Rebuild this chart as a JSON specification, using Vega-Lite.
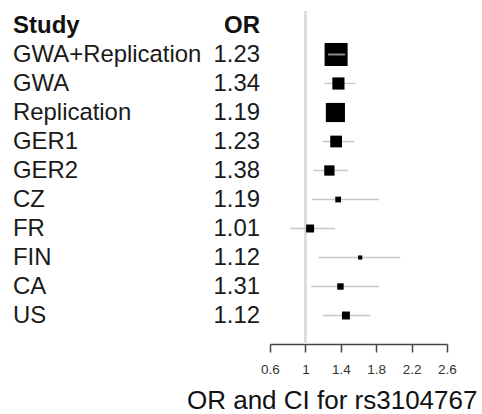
{
  "$schema": "https://vega.github.io/schema/vega-lite/v6.json",
  "padding": {"left": 13, "top": 10, "right": 0, "bottom": 0},
  "bounds": "flush",
  "spacing": 10,
  "config": {"view": {"stroke": null}, "font": "Liberation Sans"},
  "datasets": {
    "rows": [
      {"study": "Study", "orText": "OR", "header": true},
      {"study": "GWA+Replication", "orText": "1.23", "header": false, "summary": true, "est": 1.347, "lo": 1.256, "hi": 1.449, "weight": 100},
      {"study": "GWA", "orText": "1.34", "header": false, "summary": false, "est": 1.373, "lo": 1.211, "hi": 1.566, "weight": 28},
      {"study": "Replication", "orText": "1.19", "header": false, "summary": false, "est": 1.339, "lo": 1.27, "hi": 1.41, "weight": 69},
      {"study": "GER1", "orText": "1.23", "header": false, "summary": false, "est": 1.347, "lo": 1.196, "hi": 1.551, "weight": 26},
      {"study": "GER2", "orText": "1.38", "header": false, "summary": false, "est": 1.271, "lo": 1.09, "hi": 1.483, "weight": 20},
      {"study": "CZ", "orText": "1.19", "header": false, "summary": false, "est": 1.37, "lo": 1.075, "hi": 1.834, "weight": 6.2},
      {"study": "FR", "orText": "1.01", "header": false, "summary": false, "est": 1.053, "lo": 0.826, "hi": 1.336, "weight": 12},
      {"study": "FIN", "orText": "1.12", "header": false, "summary": false, "est": 1.619, "lo": 1.147, "hi": 2.071, "weight": 3.2},
      {"study": "CA", "orText": "1.31", "header": false, "summary": false, "est": 1.396, "lo": 1.064, "hi": 1.834, "weight": 7.8},
      {"study": "US", "orText": "1.12", "header": false, "summary": false, "est": 1.458, "lo": 1.196, "hi": 1.732, "weight": 12}
    ]
  },
  "hconcat": [
    {
      "width": 190,
      "height": 333,
      "data": {"name": "rows"},
      "layer": [
        {
          "transform": [{"filter": "datum.header"}],
          "mark": {"type": "text", "x": 0, "align": "left", "baseline": "middle", "fontSize": 24, "fontWeight": "bold", "color": "#111"},
          "encoding": {
            "y": {"field": "study", "type": "nominal", "axis": null, "sort": null,
              "scale": {"type": "band", "domain": ["Study", "GWA+Replication", "GWA", "Replication", "GER1", "GER2", "CZ", "FR", "FIN", "CA", "US"], "paddingInner": 0, "paddingOuter": 0.2413, "align": 0}},
            "text": {"field": "study"}
          }
        },
        {
          "transform": [{"filter": "!datum.header"}],
          "mark": {"type": "text", "x": 0, "align": "left", "baseline": "middle", "fontSize": 23.9, "color": "#1a1a1a"},
          "encoding": {
            "y": {"field": "study", "type": "nominal", "axis": null, "sort": null,
              "scale": {"type": "band", "domain": ["Study", "GWA+Replication", "GWA", "Replication", "GER1", "GER2", "CZ", "FR", "FIN", "CA", "US"], "paddingInner": 0, "paddingOuter": 0.2413, "align": 0}},
            "text": {"field": "study"}
          }
        }
      ]
    },
    {
      "width": 47,
      "height": 333,
      "data": {"name": "rows"},
      "layer": [
        {
          "transform": [{"filter": "datum.header"}],
          "mark": {"type": "text", "x": "width", "align": "right", "baseline": "middle", "fontSize": 24, "fontWeight": "bold", "color": "#111"},
          "encoding": {
            "y": {"field": "study", "type": "nominal", "axis": null, "sort": null,
              "scale": {"type": "band", "domain": ["Study", "GWA+Replication", "GWA", "Replication", "GER1", "GER2", "CZ", "FR", "FIN", "CA", "US"], "paddingInner": 0, "paddingOuter": 0.2413, "align": 0}},
            "text": {"field": "orText"}
          }
        },
        {
          "transform": [{"filter": "!datum.header"}],
          "mark": {"type": "text", "x": "width", "align": "right", "baseline": "middle", "fontSize": 23.9, "color": "#1a1a1a"},
          "encoding": {
            "y": {"field": "study", "type": "nominal", "axis": null, "sort": null,
              "scale": {"type": "band", "domain": ["Study", "GWA+Replication", "GWA", "Replication", "GER1", "GER2", "CZ", "FR", "FIN", "CA", "US"], "paddingInner": 0, "paddingOuter": 0.2413, "align": 0}},
            "text": {"field": "orText"}
          }
        }
      ]
    },
    {
      "width": 177,
      "height": 333,
      "data": {"name": "rows"},
      "layer": [
        {
          "mark": {"type": "rule", "color": "#dcdcdc", "strokeWidth": 1.5},
          "encoding": {
            "x": {"datum": 1, "type": "quantitative",
              "scale": {"domain": [0.6, 2.6], "nice": false, "zero": false},
              "axis": {"values": [0.6, 1, 1.4, 1.8, 2.2, 2.6], "format": "~g", "grid": false, "domainColor": "#444", "domainWidth": 1.5, "tickColor": "#444", "tickWidth": 1.5, "tickSize": 8, "labelFontSize": 13.5, "labelColor": "#333", "labelPadding": 10, "labelFlush": false, "labelOverlap": false, "title": "OR and CI for rs3104767", "titleFontSize": 26, "titleFontWeight": "normal", "titleColor": "#111", "titleX": 61.7, "titleY": 64, "titleAlign": "center", "titleBaseline": "alphabetic"}}
          }
        },
        {
          "transform": [{"filter": "!datum.header"}],
          "mark": {"type": "rule", "color": "#c8c8c8", "strokeWidth": 1.3},
          "encoding": {
            "y": {"field": "study", "type": "nominal", "axis": null, "sort": null,
              "scale": {"type": "band", "domain": ["Study", "GWA+Replication", "GWA", "Replication", "GER1", "GER2", "CZ", "FR", "FIN", "CA", "US"], "paddingInner": 0, "paddingOuter": 0.2413, "align": 0}},
            "x": {"field": "lo", "type": "quantitative",
              "axis": {"values": [0.6, 1, 1.4, 1.8, 2.2, 2.6], "format": "~g", "grid": false, "domainColor": "#444", "domainWidth": 1.5, "tickColor": "#444", "tickWidth": 1.5, "tickSize": 8, "labelFontSize": 13.5, "labelColor": "#333", "labelPadding": 10, "labelFlush": false, "labelOverlap": false, "title": "OR and CI for rs3104767", "titleFontSize": 26, "titleFontWeight": "normal", "titleColor": "#111", "titleX": 61.7, "titleY": 64, "titleAlign": "center", "titleBaseline": "alphabetic"}},
            "x2": {"field": "hi"}
          }
        },
        {
          "transform": [{"filter": "!datum.header"}],
          "mark": {"type": "square", "filled": true, "color": "#000", "opacity": 1},
          "encoding": {
            "y": {"field": "study", "type": "nominal", "axis": null, "sort": null,
              "scale": {"type": "band", "domain": ["Study", "GWA+Replication", "GWA", "Replication", "GER1", "GER2", "CZ", "FR", "FIN", "CA", "US"], "paddingInner": 0, "paddingOuter": 0.2413, "align": 0}},
            "x": {"field": "est", "type": "quantitative",
              "axis": {"values": [0.6, 1, 1.4, 1.8, 2.2, 2.6], "format": "~g", "grid": false, "domainColor": "#444", "domainWidth": 1.5, "tickColor": "#444", "tickWidth": 1.5, "tickSize": 8, "labelFontSize": 13.5, "labelColor": "#333", "labelPadding": 10, "labelFlush": false, "labelOverlap": false, "title": "OR and CI for rs3104767", "titleFontSize": 26, "titleFontWeight": "normal", "titleColor": "#111", "titleX": 61.7, "titleY": 64, "titleAlign": "center", "titleBaseline": "alphabetic"}},
            "size": {"field": "weight", "type": "quantitative", "legend": null, "scale": {"type": "linear", "domain": [0, 100], "range": [0, 530], "zero": true}}
          }
        },
        {
          "transform": [{"filter": "datum.summary"}],
          "mark": {"type": "rule", "color": "#8a8a8a", "strokeWidth": 2},
          "encoding": {
            "y": {"field": "study", "type": "nominal", "axis": null, "sort": null,
              "scale": {"type": "band", "domain": ["Study", "GWA+Replication", "GWA", "Replication", "GER1", "GER2", "CZ", "FR", "FIN", "CA", "US"], "paddingInner": 0, "paddingOuter": 0.2413, "align": 0}},
            "x": {"field": "lo", "type": "quantitative",
              "axis": {"values": [0.6, 1, 1.4, 1.8, 2.2, 2.6], "format": "~g", "grid": false, "domainColor": "#444", "domainWidth": 1.5, "tickColor": "#444", "tickWidth": 1.5, "tickSize": 8, "labelFontSize": 13.5, "labelColor": "#333", "labelPadding": 10, "labelFlush": false, "labelOverlap": false, "title": "OR and CI for rs3104767", "titleFontSize": 26, "titleFontWeight": "normal", "titleColor": "#111", "titleX": 61.7, "titleY": 64, "titleAlign": "center", "titleBaseline": "alphabetic"}},
            "x2": {"field": "hi"}
          }
        }
      ]
    }
  ]
}
